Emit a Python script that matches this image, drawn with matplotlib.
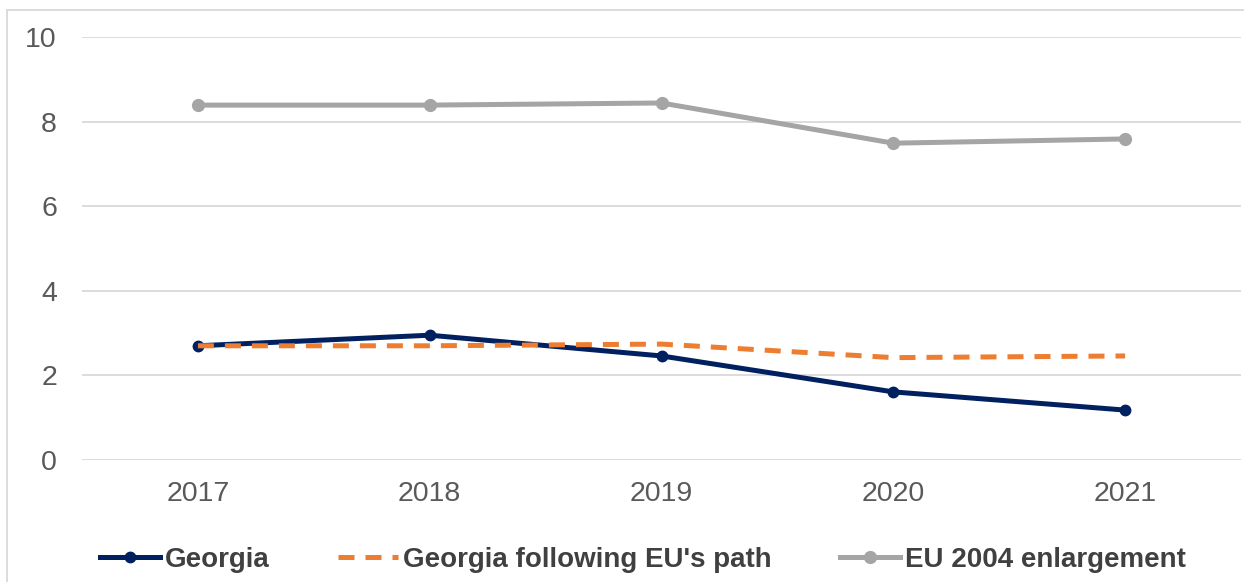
import numpy as np
import matplotlib.pyplot as plt
from matplotlib.patches import Rectangle

years = ['2017', '2018', '2019', '2020', '2021']
georgia = [2.70, 2.95, 2.46, 1.61, 1.18]
georgia_eu_path = [2.70, 2.70, 2.74, 2.42, 2.46]
eu_2004 = [8.39, 8.39, 8.44, 7.49, 7.59]
yticks = [0, 2, 4, 6, 8, 10]

plt.rcParams['font.family'] = ['Liberation Sans', 'DejaVu Sans']

fig = plt.figure(figsize=(12.44, 5.82), dpi=100)
ax = fig.add_axes([82 / 1244, 122 / 582, 1159 / 1244, 423 / 582])

x = np.arange(len(years))
ax.plot(x, georgia, color='#002060', lw=3.6, marker='o', ms=7.5, label='Georgia', zorder=3)
ax.plot(x, georgia_eu_path, color='#ED7D31', lw=3.6, ls=(0, (3.2, 2.2)), label="Georgia following EU's path", zorder=4)
ax.plot(x, eu_2004, color='#A5A5A5', lw=3.6, marker='o', ms=8.5, label='EU 2004 enlargement', zorder=3)

ax.set_xlim(-0.5, len(years) - 0.5)
ax.set_ylim(0, 10)
ax.set_xticks(x)
ax.set_xticklabels(years)
ax.set_yticks(yticks)
ax.tick_params(length=0, labelsize=20.5, labelcolor='#595959')
ax.tick_params(axis='y', pad=18)
ax.tick_params(axis='x', pad=15)
ax.grid(axis='y', color='#D9D9D9', lw=1.3)
ax.set_axisbelow(True)
for s in ax.spines.values():
    s.set_visible(False)

leg = fig.legend(loc='center', bbox_to_anchor=(643 / 1244, 1 - 560 / 582), ncol=3, frameon=False,
                 handlelength=2.15, handletextpad=0.2, columnspacing=2.45,
                 prop={'size': 20, 'weight': 'bold'})
for t in leg.get_texts():
    t.set_color('#404040')

# outer chart border
fig.patches.append(Rectangle((7 / 1244, -0.05), 1.1, 1 - 10 / 582 + 0.05, transform=fig.transFigure,
                             fill=False, ec='#D9D9D9', lw=1.3))

fig.savefig('out.png', dpi=100)
